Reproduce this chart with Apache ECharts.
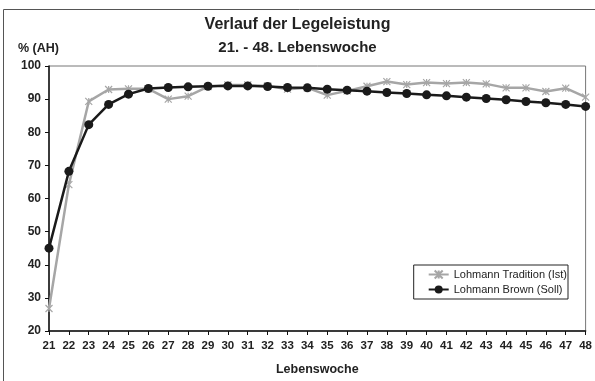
<!DOCTYPE html>
<html>
<head>
<meta charset="utf-8">
<script src="https://cdn.jsdelivr.net/npm/echarts@6/dist/echarts.min.js"></script>
<style>html,body{margin:0;padding:0;background:#fff}#c{width:595px;height:381px}</style>
</head>
<body>
<div id="c"></div>
<script>
const weeks = ['21','22','23','24','25','26','27','28','29','30','31','32','33','34','35','36','37','38','39','40','41','42','43','44','45','46','47','48'];
const istValues = [26.8,64.2,89.3,92.9,93.1,93.1,90.0,90.9,93.8,94.3,94.3,94.0,93.0,93.4,91.2,92.5,93.9,95.3,94.4,95.0,94.7,95.0,94.6,93.4,93.4,92.3,93.3,90.6];
const sollValues = [45.0,68.2,82.3,88.4,91.5,93.2,93.5,93.7,93.9,94.0,94.0,93.8,93.5,93.4,93.0,92.7,92.4,92.0,91.7,91.3,91.0,90.6,90.2,89.8,89.3,88.9,88.4,87.8];
const yTicks = [20,30,40,50,60,70,80,90,100];

const FONT = 'Liberation Sans, Arial, sans-serif';
const chart = echarts.init(document.getElementById('c'), null, {renderer:'canvas'});
const asterisk = 'path://M0,0L10,10M10,0L0,10M5,0L5,10';
chart.setOption({
  animation:false,
  backgroundColor:'#fff',
  title:[
    {text:'Verlauf der Legeleistung', left:'center', top:12, textStyle:{fontFamily:FONT,fontWeight:'bold',fontSize:16,color:'#222'}},
    {text:'21. - 48. Lebenswoche', left:'center', top:35, textStyle:{fontFamily:FONT,fontWeight:'bold',fontSize:15,color:'#222'}},
    {text:'% (AH)', left:13, top:37, textStyle:{fontFamily:FONT,fontWeight:'bold',fontSize:12.5,color:'#222'}}
  ],
  graphic:[{type:'rect', shape:{x:3.5,y:9.5,width:700,height:500}, style:{fill:null, stroke:'#555', lineWidth:1}, silent:true}],
  grid:{left:49, right:8, top:66, bottom:50, show:true, borderColor:'#777', borderWidth:1, backgroundColor:'transparent'},
  legend:{
    right:27, top:265, orient:'vertical', itemGap:4, itemWidth:20, itemHeight:10,
    backgroundColor:'#fff', borderColor:'#222', borderWidth:1, padding:[4,1,4,14],
    textStyle:{fontFamily:FONT,fontSize:11,color:'#222'},
    data:[{name:'Lohmann Tradition (Ist)'},{name:'Lohmann Brown (Soll)'}]
  },
  xAxis:{
    type:'category', data:weeks, boundaryGap:false,
    name:'Lebenswoche', nameLocation:'middle', nameGap:32,
    nameTextStyle:{fontFamily:FONT,fontWeight:'bold',fontSize:12.5,color:'#222'},
    axisLine:{lineStyle:{color:'#111',width:1.5}},
    axisTick:{show:true, alignWithLabel:true, length:4, lineStyle:{color:'#111'}},
    axisLabel:{fontFamily:FONT,fontWeight:'bold',fontSize:11.5,color:'#222',margin:9,interval:0},
    splitLine:{show:false}
  },
  yAxis:{
    type:'value', min:20, max:100, interval:10,
    axisLine:{show:true, lineStyle:{color:'#111',width:1.5}},
    axisTick:{show:true, length:4, lineStyle:{color:'#111'}},
    axisLabel:{fontFamily:FONT,fontWeight:'bold',fontSize:12,color:'#222',margin:8},
    splitLine:{show:false}
  },
  series:[
    {name:'Lohmann Tradition (Ist)', type:'line', data:istValues, symbol:asterisk, symbolSize:7,
     lineStyle:{color:'#a6a6a6', width:2.5}, itemStyle:{color:'#a6a6a6', borderColor:'#a6a6a6', borderWidth:1.2}, z:2},
    {name:'Lohmann Brown (Soll)', type:'line', data:sollValues, symbol:'circle', symbolSize:9,
     lineStyle:{color:'#1a1a1a', width:2.5}, itemStyle:{color:'#1a1a1a'}, z:3}
  ]
});
</script>
</body>
</html>
